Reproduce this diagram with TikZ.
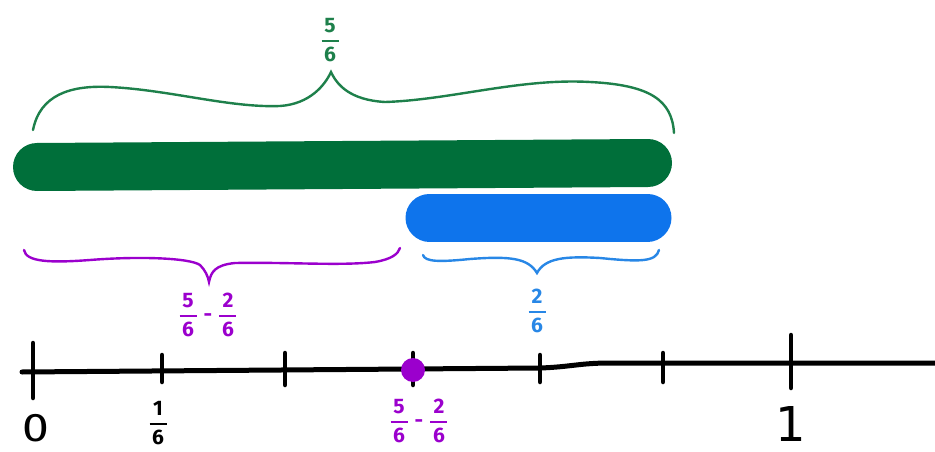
\documentclass[tikz,border=0pt]{standalone}
\usepackage{amsmath}
\usepackage{fontspec}
\setmainfont{Fira Sans}
\newfontfamily\dejavu{DejaVu Sans}
\definecolor{gbar}{RGB}{0,111,58}
\definecolor{gline}{RGB}{30,128,75}
\definecolor{bbar}{RGB}{14,116,236}
\definecolor{bline}{RGB}{40,135,230}
\definecolor{pur}{RGB}{155,0,205}
\newcommand{\fr}[2]{$\genfrac{}{}{1.8pt}{0}{\text{\makebox[17pt]{#1}}}{\text{\makebox[17pt]{#2}}}$}
\newcommand{\mn}{\hspace{6pt}-\hspace{6pt}}
\begin{document}
\begin{tikzpicture}[x=1pt,y=-1pt,
  bar/.style={line width=48pt,line cap=round},
  bracepath/.style={line width=2.4pt,line cap=round},
  axis/.style={line width=5pt,line cap=round},
  tick/.style={line width=4.5pt,line cap=round},
  fraclab/.style={font=\fontsize{21}{24}\selectfont\bfseries,inner sep=0pt},
  biglab/.style={font=\dejavu\fontsize{48}{54}\selectfont,inner sep=0pt,anchor=base}]
\useasboundingbox (0,0) rectangle (935,452);
% bars
\draw[bar,gbar] (37,167) -- (648,163);
\draw[bar,bbar] (429.5,217.5) -- (647.5,217.5);
% top green brace
\draw[bracepath,gline] (33,130) .. controls (40,95) and (70,85) .. (110,87)
  .. controls (170,90) and (230,108) .. (280,106)
  .. controls (310,104) and (325,85) .. (331,72)
  .. controls (337,85) and (350,100) .. (385,102)
  .. controls (450,100) and (520,78) .. (590,82)
  .. controls (650,85) and (672,100) .. (674,133);
% purple brace
\draw[bracepath,pur] (24,250) .. controls (26,262) and (50,263) .. (90,260)
  .. controls (140,256) and (190,258) .. (200,265)
  .. controls (205,270) and (208,276) .. (209,282)
  .. controls (211,272) and (215,265) .. (235,263)
  .. controls (290,262) and (340,266) .. (375,262)
  .. controls (392,259) and (398,254) .. (400,248);
% blue brace
\draw[bracepath,bline] (423,255) .. controls (425,262) and (440,262) .. (470,259)
  .. controls (510,256) and (528,258) .. (537,273)
  .. controls (545,258) and (565,256) .. (600,258)
  .. controls (640,262) and (656,262) .. (659,250);
% labels of braces
\node[fraclab,text=gline] (top) at (330,40) {\fr{5}{6}};
\node[fraclab,text=pur] (diff) at (208,315) {\fr{5}{6}\mn\fr{2}{6}};
\node[fraclab,text=bline] (two) at (537,311) {\fr{2}{6}};
% number line
\draw[axis] (22,372) -- (540,368) .. controls (570,367) and (580,363) .. (610,363) -- (935,363);
\draw[tick] (33,343) -- (33,398);
\draw[tick] (162,355) -- (162,382);
\draw[tick] (285,353) -- (285,385);
\draw[tick] (413,353) -- (413,385);
\draw[tick] (540,355) -- (540,382);
\draw[tick] (663,353) -- (663,382);
\draw[tick] (791,335) -- (791,388);
\fill[pur] (413,370) circle (12);
% number labels
\node[font=\fontsize{40}{44}\selectfont,inner sep=0pt,anchor=base,xscale=1.2] (zero) at (36,441) {0};
\node[fraclab,text=black] (sixth) at (158,423) {\fr{1}{6}};
\node[fraclab,text=pur] (pt) at (419,421) {\fr{5}{6}\mn\fr{2}{6}};
\node[biglab] (one) at (791,441) {1};
\end{tikzpicture}
\end{document}
